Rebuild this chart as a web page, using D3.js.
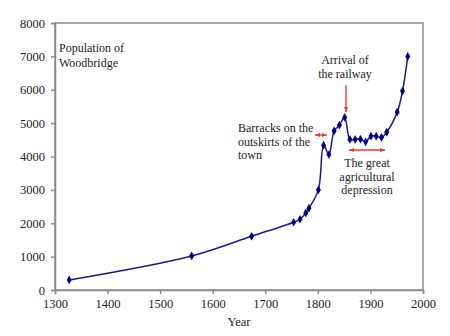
<!DOCTYPE html>
<html><head><meta charset="utf-8">
<script src="https://cdn.jsdelivr.net/npm/d3@7"></script>
<style>body{margin:0;background:#fff}svg{display:block}</style>
</head><body>
<svg id="c" width="450" height="336"></svg>
<script>
const years = [1327,1560,1674,1754,1766,1777,1783,1801,1811,1821,1831,1841,1851,1861,1871,1881,1891,1901,1911,1921,1931,1951,1961,1971];
const population = [300,1020,1610,2030,2120,2310,2450,3000,4340,4060,4770,4940,5170,4510,4510,4520,4440,4610,4610,4570,4730,5330,5960,7000];
const xTicks = [1300,1400,1500,1600,1700,1800,1900,2000];
const yTicks = [0,1000,2000,3000,4000,5000,6000,7000,8000];

const svg = d3.select("#c");
const L=55,R=423,T=23,B=290;
const x = d3.scaleLinear().domain([1300,2000]).range([L,R]);
const y = d3.scaleLinear().domain([0,8000]).range([B,T]);
const font = "'Times New Roman', Times, Tinos, 'Liberation Serif', 'DejaVu Serif', 'Noto Serif', serif";
const axisCol = "#8c8c8c";

svg.append("rect").attr("x",L).attr("y",T).attr("width",R-L).attr("height",B-T)
  .attr("fill","none").attr("stroke",axisCol).attr("stroke-width",1.5);

const xa = svg.append("g").attr("transform",`translate(0,${B})`)
  .call(d3.axisBottom(x).tickValues(xTicks).tickFormat(d3.format("d")).tickSize(4).tickPadding(5));
const ya = svg.append("g").attr("transform",`translate(${L},0)`)
  .call(d3.axisLeft(y).tickValues(yTicks).tickFormat(d3.format("d")).tickSize(4).tickPadding(6));
[xa,ya].forEach(a=>{
  a.attr("font-family",font);
  a.select(".domain").attr("stroke",axisCol).attr("stroke-width",1.5);
  a.selectAll(".tick line").attr("stroke",axisCol).attr("stroke-width",1.5);
  a.selectAll("text").attr("font-family",font).attr("font-size",12.5).attr("fill","#222");
});

svg.append("text").attr("x",(L+R)/2).attr("y",326).attr("text-anchor","middle")
  .attr("font-family",font).attr("font-size",12.5).attr("fill","#222").text("Year");

const data = years.map((d,i)=>({yr:d,p:population[i]}));
const line = d3.line().x(d=>x(d.yr)).y(d=>y(d.p)).curve(d3.curveCatmullRom.alpha(0.5));
svg.append("path").datum(data).attr("d",line).attr("fill","none")
  .attr("stroke","#1a1a8c").attr("stroke-width",1.5);
svg.selectAll(".m").data(data).enter().append("path")
  .attr("d",d3.symbol(d3.symbolDiamond,22))
  .attr("transform",d=>`translate(${x(d.yr)},${y(d.p)})`)
  .attr("fill","#000080");

function txt(lines,xp,y0,anchor,lh){
  const t=svg.append("text").attr("font-family",font).attr("font-size",12).attr("fill","#222")
    .attr("text-anchor",anchor);
  lines.forEach((s,i)=>t.append("tspan").attr("x",xp).attr("y",y0+i*lh).text(s));
}
txt(["Population of","Woodbridge"],59,52,"start",15);
txt(["Arrival of","the railway"],345,64,"middle",14);
txt(["Barracks on the","outskirts of the","town"],238,132,"start",13.5);
txt(["The great","agricultural","depression"],367,167,"middle",13.5);

const red="#e8392f";
const defs=svg.append("defs");
defs.append("marker").attr("id","ah").attr("viewBox","0 0 10 10").attr("refX",10).attr("refY",5)
  .attr("markerUnits","userSpaceOnUse").attr("markerWidth",5).attr("markerHeight",5)
  .attr("orient","auto-start-reverse")
  .append("path").attr("d","M0,1L10,5L0,9z").attr("fill",red);
svg.append("line").attr("x1",346).attr("y1",85).attr("x2",346).attr("y2",112)
  .attr("stroke",red).attr("stroke-width",1.3).attr("marker-end","url(#ah)");
svg.append("line").attr("x1",315).attr("y1",135).attr("x2",327).attr("y2",135)
  .attr("stroke",red).attr("stroke-width",1.3).attr("marker-start","url(#ah)").attr("marker-end","url(#ah)");
svg.append("line").attr("x1",349).attr("y1",150).attr("x2",385).attr("y2",150)
  .attr("stroke",red).attr("stroke-width",1.3).attr("marker-start","url(#ah)").attr("marker-end","url(#ah)");
</script>
</body></html>
